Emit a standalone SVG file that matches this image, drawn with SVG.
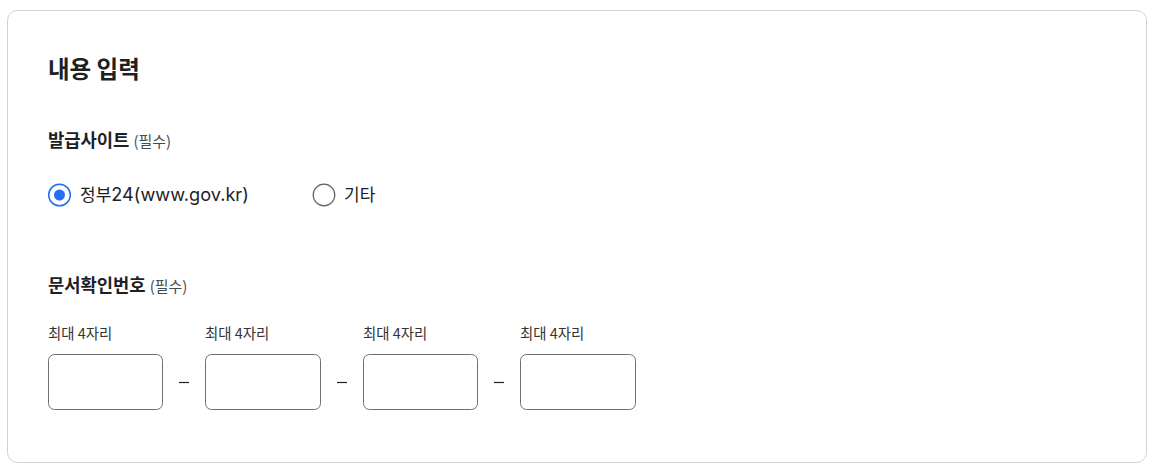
<svg xmlns="http://www.w3.org/2000/svg" width="1150" height="467" viewBox="0 0 1150 467">
<style>
text{font-family:"Noto Sans CJK KR","Noto Sans",sans-serif;fill:#1e2124}
.title{font-size:23.5px;font-weight:700}
.label{font-size:17.7px;font-weight:700}
.req{font-size:15px;fill:#464c53;font-weight:400}
.opt{font-size:17px;fill:#1e2124}
.lat{font-family:Inter,"Noto Sans",sans-serif;font-size:18.2px}
.hint{font-size:14.4px;fill:#333}
.box{fill:#fff;stroke:#6d7175;stroke-width:1}
.dash{stroke:#1e2124;stroke-width:1.2}
</style>
<rect x="0" y="0" width="1150" height="467" fill="#fff"/>
<g id="panel">
<rect x="7.5" y="10.5" width="1139" height="452" rx="10" fill="#fff" stroke="#cdd1d5"/>
<text class="title" x="48" y="78">내용 입력</text>
</g>
<g id="site">
<text class="label" x="48" y="147">발급사이트 <tspan class="req">(필수)</tspan></text>
</g>
<g id="radio-gov">
<circle cx="59.5" cy="195" r="10.8" fill="#fff" stroke="#256ef4" stroke-width="1.5"/>
<circle cx="59.5" cy="195" r="5.5" fill="#256ef4"/>
<text class="opt" x="80" y="201">정부<tspan class="lat">24(www.gov.kr)</tspan></text>
</g>
<g id="radio-etc">
<circle cx="324" cy="195" r="10.8" fill="#fff" stroke="#58616a" stroke-width="1.2"/>
<text class="opt" x="344" y="201">기타</text>
</g>
<g id="docnum">
<text class="label" x="48" y="292">문서확인번호 <tspan class="req">(필수)</tspan></text>
</g>
<g id="field1">
<text class="hint" x="48" y="339">최대 4자리</text>
<rect class="box" x="48.5" y="354.5" width="114" height="55" rx="6"/>
</g>
<g id="field2">
<text class="hint" x="205" y="339">최대 4자리</text>
<rect class="box" x="205.5" y="354.5" width="115" height="55" rx="6"/>
</g>
<g id="field3">
<text class="hint" x="363" y="339">최대 4자리</text>
<rect class="box" x="363.5" y="354.5" width="114" height="55" rx="6"/>
</g>
<g id="field4">
<text class="hint" x="520" y="339">최대 4자리</text>
<rect class="box" x="520.5" y="354.5" width="115" height="55" rx="6"/>
</g>
<g id="connectors">
<line class="dash" x1="179" y1="382.5" x2="189" y2="382.5"/>
<line class="dash" x1="337" y1="382.5" x2="347" y2="382.5"/>
<line class="dash" x1="494" y1="382.5" x2="504" y2="382.5"/>
</g>
</svg>
